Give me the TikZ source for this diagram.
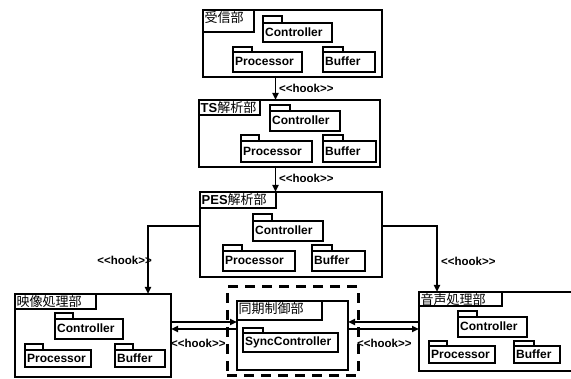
\documentclass[tikz,border=0pt]{standalone}
\usepackage{fontspec}
\setmainfont{Liberation Sans}[Ligatures=NoCommon]
\newfontfamily\jp{Noto Sans CJK JP}
\usetikzlibrary{arrows.meta,fit}

\newcommand\hooktext{\textless{}\textless{}hook\textgreater{}\textgreater{}}

\tikzset{
  outerbox/.style={draw, line width=1.5pt, inner sep=0pt, outer sep=0pt},
  titletab/.style={draw, line width=1.5pt, inner sep=0pt, outer sep=0pt},
  titletext/.style={inner sep=1.5pt, anchor=north west, font=\fontsize{13}{13}\selectfont},
  pkgtab/.style={draw, line width=1.3pt, inner sep=0pt, outer sep=0pt},
  pkgbody/.style={draw, line width=1.5pt, inner sep=0pt, outer sep=0pt},
  pkgtext/.style={inner sep=0pt, anchor=west, font=\fontsize{12}{12}\selectfont\bfseries},
  syncframe/.style={draw, line width=3pt, dash pattern=on 10pt off 7pt, inner sep=0pt},
  hook/.style={line width=1.8pt, -{Triangle[length=7pt,width=6pt]}},
  hooklabel/.style={inner sep=0pt, font=\fontsize{11.5}{11.5}\selectfont\bfseries},
}

% package symbol: name, left x, tab top, tab right, tab bottom, body right, body bottom, label
\newcommand\pkg[8]{%
  \node[pkgtab, fit={(#2,#3) (#4,#5)}] (#1-tab) {};
  \node[pkgbody, fit={(#2,#5) (#6,#7)}] (#1) {};
  \node[pkgtext] (#1-text) at ([xshift=2pt,yshift=0.5pt]#1.west) {#8};
}

% subsystem frame: name, x1, y1, x2, y2, tab right, tab bottom, title
\newcommand\subsys[8]{%
  \node[outerbox, fit={(#2,#3) (#4,#5)}] (#1) {};
  \node[titletab, fit={(#2,#3) (#6,#7)}] (#1-tab) {};
  \node[titletext] (#1-title) at (#1-tab.north west) {#8};
}

\begin{document}
\begin{tikzpicture}[x=1pt,y=-1pt]
\clip (0,0) rectangle (571,379);
\fill[white] (0,0) rectangle (571,379);

% receiver
\subsys{recv}{203}{10}{382}{77}{254}{32}{\jp 受信部}
\pkg{recv-ctl}{263}{16}{282}{23}{332}{42}{Controller}
\pkg{recv-proc}{233}{47}{252}{52}{302}{72}{Processor}
\pkg{recv-buf}{323}{47}{343}{52}{375}{72}{Buffer}

% TS parser
\subsys{ts}{199}{100}{380}{167}{260}{115}{\textbf{TS}\jp 解析部}
\pkg{ts-ctl}{270}{105}{290}{111}{340}{131}{Controller}
\pkg{ts-proc}{241}{135}{259}{141}{312}{162}{Processor}
\pkg{ts-buf}{323}{135}{343}{141}{376}{162}{Buffer}

% PES parser
\subsys{pes}{200}{192}{382}{277}{276}{208}{\textbf{PES}\jp 解析部}
\pkg{pes-ctl}{253}{214}{272}{221}{323}{241}{Controller}
\pkg{pes-proc}{223}{245}{242}{251}{295}{271}{Processor}
\pkg{pes-buf}{312}{245}{332}{251}{365}{271}{Buffer}

% video processing
\subsys{video}{15}{294}{171}{377}{96}{309}{\jp 映像処理部}
\pkg{video-ctl}{55}{313}{73}{319}{123}{339}{Controller}
\pkg{video-proc}{25}{344}{43}{350}{91}{367}{Processor}
\pkg{video-buf}{115}{344}{133}{350}{165}{367}{Buffer}

% synchronisation control
\node[syncframe, fit={(227,287) (358,376)}] (syncarea) {};
\subsys{sync}{237}{301}{348}{370}{322}{320}{\jp 同期制御部}
\pkg{sync-ctl}{243}{328}{263}{333}{338}{352}{SyncController}

% audio processing
\subsys{audio}{419}{292}{578}{371}{502}{306}{\jp 音声処理部}
\pkg{audio-ctl}{458}{311}{477}{317}{527}{337}{Controller}
\pkg{audio-proc}{429}{341}{447}{346}{495}{363}{Processor}
\pkg{audio-buf}{514}{341}{534}{346}{560}{363}{Buffer}

% connectors
\coordinate (midx) at (275.5,0);
\coordinate (lbend) at (148,226);
\coordinate (rbend) at (437,226);
\coordinate (rowa) at (0,322);
\coordinate (rowb) at (0,329);

\draw[hook] (recv.south -| midx) -- (ts.north -| midx);
\node[hooklabel, anchor=west] (l1) at (279,88) {\hooktext};
\draw[hook] (ts.south -| midx) -- (pes.north -| midx);
\node[hooklabel, anchor=west] (l2) at (279,178) {\hooktext};

\draw[hook] (pes.west |- lbend) -- (lbend) -- (video.north -| lbend);
\node[hooklabel, anchor=east] (l3) at (152,260) {\hooktext};
\draw[hook] (pes.east |- rbend) -- (rbend) -- (audio.north -| rbend);
\node[hooklabel, anchor=west] (l4) at (441,261) {\hooktext};

\draw[hook] (video.east |- rowa) -- (sync.west |- rowa);
\draw[hook] (sync.west |- rowb) -- (video.east |- rowb);
\node[hooklabel, anchor=west] (l5) at (171,343) {\hooktext};
\draw[hook] (audio.west |- rowa) -- (sync.east |- rowa);
\draw[hook] (sync.east |- rowb) -- (audio.west |- rowb);
\node[hooklabel, anchor=west] (l6) at (357,343) {\hooktext};
\end{tikzpicture}
\end{document}
